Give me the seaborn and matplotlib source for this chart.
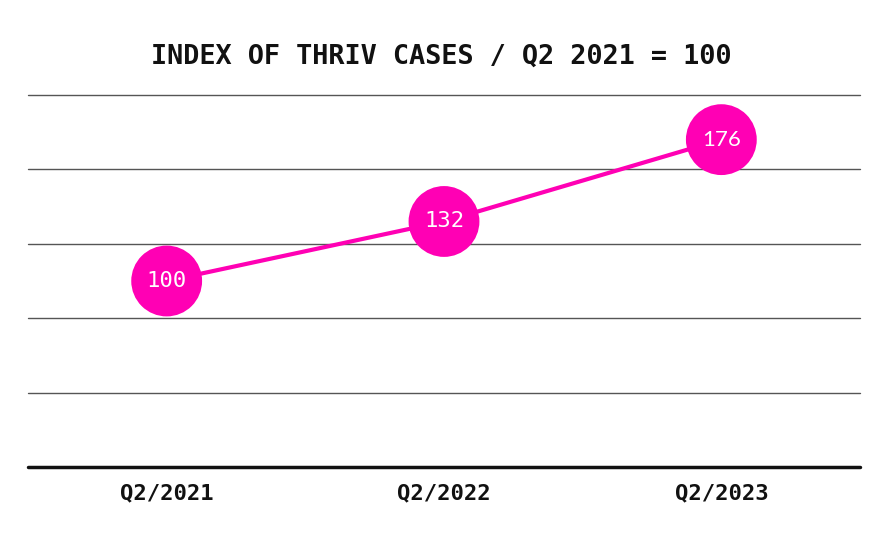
import numpy as np
import pandas as pd
import matplotlib
matplotlib.use('Agg')
import matplotlib.pyplot as plt
import seaborn as sns

# Data
quarters = ['Q2/2021', 'Q2/2022', 'Q2/2023']
index_values = [100, 132, 176]
label_fonts = ['DejaVu Sans Mono', 'DejaVu Sans Mono', 'Lato']
grid_ticks = [0, 40, 80, 120, 160, 200]

pink = '#ff00b4'

df = pd.DataFrame({'quarter': quarters, 'value': index_values})
df['pos'] = np.arange(len(df))

sns.set_theme(style='white')

fig = plt.figure(figsize=(8.84, 5.42), dpi=100)
ax = fig.add_axes([28 / 884, 1 - 467 / 542, (860 - 28) / 884, (467 - 95) / 542])

for t in grid_ticks[1:]:
    ax.axhline(t, color='#555555', lw=1.0, zorder=0, clip_on=False)
ax.axhline(0, color='#111111', lw=2.5, zorder=1, clip_on=False)

sns.lineplot(data=df, x='pos', y='value', color=pink, lw=3, ax=ax, zorder=2)
sns.scatterplot(data=df, x='pos', y='value', color=pink, s=51 ** 2,
                edgecolor='none', ax=ax, zorder=3, clip_on=False)

for x, v, fam in zip(df['pos'], df['value'], label_fonts):
    ax.text(x, v, str(v), ha='center', va='center', color='white',
            fontsize=16, family=fam, zorder=4)

ax.set_xlim(-0.5, 2.5)
ax.set_ylim(0, 200)
ax.set_xticks(df['pos'])
ax.set_xticklabels(quarters, family='DejaVu Sans Mono', fontweight='bold',
                   fontsize=16, color='#111111')
ax.set_yticks([])
ax.tick_params(axis='x', length=0, pad=12)
ax.set_xlabel('')
ax.set_ylabel('')
for s in ax.spines.values():
    s.set_visible(False)

fig.text(441 / 884, 1 - 57 / 542, 'INDEX OF THRIV CASES / Q2 2021 = 100',
         ha='center', va='center', family='DejaVu Sans Mono',
         fontweight='bold', fontsize=19.4, color='#111111')

fig.savefig('out.png', dpi=100, facecolor='white')
